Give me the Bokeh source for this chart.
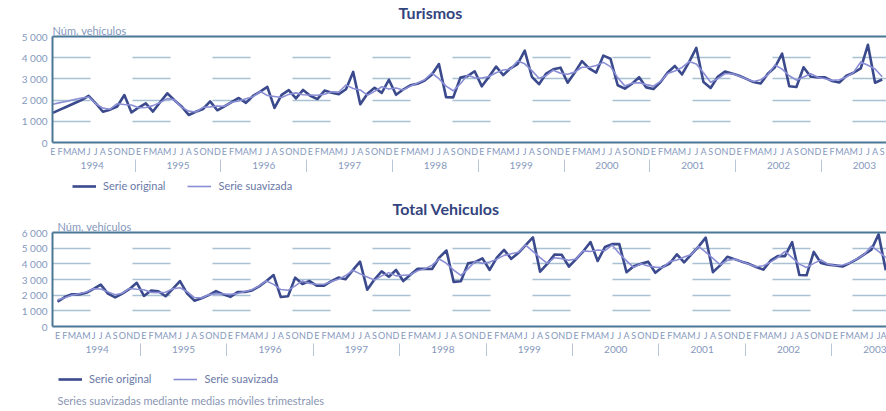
from bokeh.plotting import figure
from bokeh.models import Range1d, FixedTicker, LinearAxis, Legend, LegendItem, Label, Title
from bokeh.layouts import column
from bokeh.embed import file_html
from bokeh.resources import INLINE

# ---------------- data ----------------
month_letters = ["E", "F", "M", "A", "M", "J", "J", "A", "S", "O", "N", "D"]
years = ["1994", "1995", "1996", "1997", "1998", "1999", "2000", "2001", "2002", "2003"]
y_ticks_top = [0, 1000, 2000, 3000, 4000, 5000]
y_ticks_bottom = [0, 1000, 2000, 3000, 4000, 5000, 6000]
legend_labels = ["Serie original", "Serie suavizada"]

# Turismos (monthly, Jan 1994 - Sep 2003)
turismos_original = [
    1400, 1550, 1700, 1850, 2000, 2200, 1850, 1450, 1550, 1700, 2240, 1420,
    1650, 1850, 1460, 1900, 2320, 2000, 1700, 1300, 1450, 1580, 1940, 1520,
    1700, 1900, 2100, 1870, 2200, 2400, 2620, 1630, 2250, 2470, 2080, 2480,
    2200, 2050, 2450, 2350, 2280, 2510, 3330, 1800, 2300, 2580, 2340, 2960,
    2250, 2500, 2700, 2770, 2920, 3200, 3700, 2140, 2130, 3060, 3130, 3360,
    2650, 3100, 3580, 3180, 3500, 3700, 4330, 3100, 2750, 3250, 3450, 3530,
    2820, 3300, 3840, 3500, 3300, 4100, 3950, 2700, 2540, 2770, 3080, 2600,
    2520, 2850, 3300, 3610, 3210, 3800, 4460, 2850, 2570, 3100, 3350, 3260,
    3150, 3000, 2850, 2780, 3240, 3550, 4190, 2650, 2620, 3550, 3100, 3070,
    3070, 2900, 2830, 3150, 3290, 3500, 4610, 2820, 2970,
]
turismos_suavizada = [
    1800, 1880, 1950, 2030, 2100, 2150, 1830, 1620, 1570, 1830, 1790, 1770,
    1640, 1650, 1740, 1890, 2070, 2010, 1670, 1480, 1440, 1660, 1680, 1720,
    1710, 1900, 1960, 2060, 2160, 2410, 2220, 2170, 2120, 2270, 2340, 2250,
    2240, 2230, 2280, 2390, 2380, 2710, 2550, 2480, 2230, 2410, 2630, 2520,
    2570, 2480, 2660, 2800, 2960, 3270, 3010, 2660, 2440, 2770, 3180, 3050,
    3040, 3110, 3290, 3420, 3460, 3840, 3710, 3390, 3030, 3150, 3410, 3270,
    3220, 3320, 3550, 3550, 3630, 3780, 3580, 3060, 2670, 2800, 2820, 2730,
    2660, 2890, 3250, 3370, 3540, 3820, 3700, 3290, 2840, 3010, 3240, 3250,
    3140, 3000, 2880, 2960, 3190, 3660, 3460, 3150, 2940, 3090, 3240, 3080,
    3010, 2930, 2960, 3090, 3310, 3800, 3640, 3470, 3100,
]

# Total vehiculos (monthly, Jan 1994 - Aug 2003)
total_original = [
    1580, 1880, 2060, 2050, 2150, 2400, 2670, 2100, 1860, 2100, 2400, 2790,
    1950, 2300, 2250, 1930, 2400, 2900, 2100, 1650, 1800, 2000, 2260, 2050,
    1890, 2200, 2200, 2300, 2560, 2900, 3280, 1880, 1930, 3120, 2710, 2900,
    2600, 2600, 2890, 3120, 3020, 3600, 4140, 2350, 3000, 3520, 3180, 3610,
    2900, 3300, 3690, 3680, 3670, 4400, 4850, 2850, 2890, 4030, 4120, 4350,
    3610, 4400, 4890, 4320, 4700, 5200, 5690, 3500, 4000, 4590, 4580, 3820,
    4300, 4800, 5390, 4180, 5070, 5260, 5260, 3460, 3850, 4000, 4140, 3430,
    3800, 4020, 4610, 4100, 4600, 5100, 5670, 3470, 3900, 4450, 4300, 4140,
    4000, 3800, 3630, 4200, 4500, 4490, 5380, 3290, 3270, 4760, 4050, 3950,
    3900, 3830, 4050, 4300, 4600, 4900, 5880, 3590,
]
total_suavizada = [
    1700, 1840, 2000, 2090, 2200, 2410, 2390, 2210, 2020, 2120, 2430, 2380,
    2350, 2170, 2160, 2190, 2410, 2470, 2220, 1850, 1820, 2020, 2100, 2070,
    2050, 2100, 2230, 2350, 2590, 2910, 2690, 2360, 2310, 2590, 2910, 2740,
    2700, 2700, 2870, 3010, 3250, 3590, 3360, 3160, 2960, 3230, 3440, 3230,
    3270, 3300, 3560, 3680, 3920, 4310, 4030, 3600, 3260, 3680, 4170, 4030,
    4120, 4300, 4540, 4640, 4740, 5200, 4800, 4400, 4030, 4390, 4330, 4230,
    4310, 4830, 4790, 4880, 4840, 5200, 4660, 4190, 3770, 4000, 3860, 3790,
    3750, 4140, 4240, 4440, 4600, 5120, 4750, 4350, 3940, 4220, 4300, 4150,
    3980, 3810, 3880, 4110, 4400, 4790, 4390, 3980, 3770, 4030, 4250, 3970,
    3890, 3930, 4060, 4320, 4600, 5130, 4790, 4400,
]

# ---------------- style ----------------
FONT = "Lato"
FRAME = "#4a7795"
TITLE_C = "#33447e"
TEXT_C = "#8598bd"
LEG_C = "#6a79a6"
ORIG_C = "#3b4a8d"
SMOOTH_C = "#8a8ed4"
GRID_C = "#a9c1d3"
W = 886
LEFT = 52
NAN = float("nan")


def fmt(v):
    return f"{v // 1000} 000" if v >= 1000 else str(v)


def make_chart(title_text, orig, smooth, y_ticks, x_start, x_end, height,
               top, bottom, title_off, ylab_off):
    p = figure(width=W, height=height, output_backend="svg", toolbar_location=None,
               x_range=Range1d(x_start, x_end), y_range=Range1d(0, y_ticks[-1]),
               min_border_left=LEFT, min_border_right=0, min_border_top=top,
               min_border_bottom=bottom, title=None)
    p.outline_line_color = None

    x = list(range(len(orig)))
    p.line(x, orig, line_color=ORIG_C, line_width=2.6, line_join="round")
    p.line(x, smooth, line_color=SMOOTH_C, line_width=1.6, line_join="round")

    p.xgrid.visible = False
    p.ygrid.ticker = FixedTicker(ticks=y_ticks[1:-1])
    p.ygrid.grid_line_color = GRID_C
    p.ygrid.grid_line_width = 1.3
    p.ygrid.grid_line_dash = "38 42"

    ya = p.yaxis[0]
    ya.ticker = FixedTicker(ticks=y_ticks)
    ya.major_label_overrides = {v: fmt(v) for v in y_ticks}
    ya.major_tick_out = 0
    ya.major_tick_in = 0
    ya.minor_tick_out = 0
    ya.minor_tick_in = 0
    ya.axis_line_color = FRAME
    ya.axis_line_width = 2
    ya.major_label_text_font = FONT
    ya.major_label_text_font_size = "10px"
    ya.major_label_text_color = TEXT_C
    ya.major_label_standoff = 5

    n = len(orig)
    xa = p.xaxis[0]
    xa.ticker = FixedTicker(ticks=list(range(n)))
    xa.major_label_overrides = {i: month_letters[i % 12] for i in range(n)}
    xa.major_tick_out = 0
    xa.major_tick_in = 0
    xa.minor_tick_out = 0
    xa.minor_tick_in = 0
    xa.axis_line_color = FRAME
    xa.axis_line_width = 2
    xa.major_label_text_font = FONT
    xa.major_label_text_font_size = "9px"
    xa.major_label_text_color = TEXT_C
    xa.major_label_standoff = 3

    year_ticks = [5.5 + 12 * k for k in range(len(years))]
    sep_ticks = [11.5 + 12 * k for k in range(len(years) - 1)]
    yr = LinearAxis(ticker=FixedTicker(ticks=year_ticks, minor_ticks=sep_ticks))
    yr.major_label_overrides = {t: years[k] for k, t in enumerate(year_ticks)}
    yr.axis_line_color = None
    yr.major_tick_out = 0
    yr.major_tick_in = 0
    yr.minor_tick_in = 0
    yr.minor_tick_out = 14
    yr.minor_tick_line_color = "#b8c6d8"
    yr.major_label_text_font = FONT
    yr.major_label_text_font_size = "10px"
    yr.major_label_text_color = TEXT_C
    yr.major_label_standoff = -12
    p.add_layout(yr, "below")

    top_ax = LinearAxis(ticker=FixedTicker(ticks=[]))
    top_ax.axis_line_color = FRAME
    top_ax.axis_line_width = 2
    top_ax.major_tick_out = 0
    top_ax.major_tick_in = 0
    top_ax.minor_tick_out = 0
    top_ax.minor_tick_in = 0
    top_ax.major_label_text_font_size = "0px"
    top_ax.major_label_standoff = 0
    p.add_layout(top_ax, "above")

    p.add_layout(Title(text="Núm. vehículos", align="left", offset=ylab_off,
                       text_font=FONT, text_font_size="11px", text_font_style="normal",
                       text_color=TEXT_C, standoff=0), "above")
    p.add_layout(Title(text=title_text, align="left", offset=title_off,
                       text_font=FONT, text_font_size="16px", text_font_style="bold",
                       text_color=TITLE_C, standoff=0), "above")
    return p


def make_legend(height, leg_x, leg_y, note=None):
    q = figure(width=W, height=height, output_backend="svg", toolbar_location=None,
               x_range=Range1d(0, W - LEFT), y_range=Range1d(0, height),
               x_axis_type=None, y_axis_type=None,
               min_border_left=LEFT, min_border_right=0, min_border_top=0, min_border_bottom=0)
    q.outline_line_color = None
    q.grid.visible = False
    # legend-only renderers (no visible data)
    r1 = q.line([0, 1], [NAN, NAN], line_color=ORIG_C, line_width=2.6)
    r2 = q.line([0, 1], [NAN, NAN], line_color=SMOOTH_C, line_width=1.6)
    legend = Legend(items=[LegendItem(label=legend_labels[0], renderers=[r1]),
                           LegendItem(label=legend_labels[1], renderers=[r2])],
                    orientation="horizontal", location=(leg_x, leg_y),
                    border_line_color=None, background_fill_alpha=0,
                    glyph_width=24, glyph_height=10, label_standoff=7, spacing=22,
                    padding=0, margin=0, label_text_font=FONT,
                    label_text_font_size="11px", label_text_color=LEG_C,
                    label_height=12)
    q.add_layout(legend)
    if note:
        q.add_layout(Label(x=leg_x - 1, y=11, x_units="screen", y_units="screen",
                           text=note, text_align="left", text_baseline="middle",
                           text_font=FONT, text_font_size="11px", text_color="#8a96b4"))
    return q


p1 = make_chart("Turismos", turismos_original, turismos_suavizada, y_ticks_top,
                -0.05, 116.6, 172, 36, 30, 346, 0)
l1 = make_legend(24, 20, 4)
p2 = make_chart("Total Vehiculos", total_original, total_suavizada, y_ticks_bottom,
                -0.7, 115.1, 160, 34, 30, 340, 5)
l2 = make_legend(55, 6, 26, note="Series suavizadas mediante medias móviles trimestrales")

layout = column(p1, l1, p2, l2, spacing=0)
open("out.html", "w").write(file_html(layout, INLINE))
